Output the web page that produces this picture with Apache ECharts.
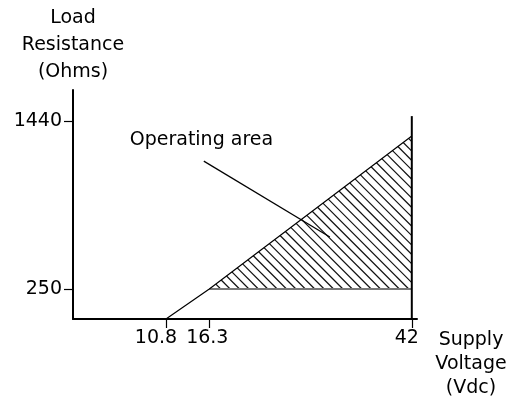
<!DOCTYPE html>
<html><head><meta charset="utf-8">
<script src="https://cdn.jsdelivr.net/npm/echarts@6/dist/echarts.min.js"></script>
<style>html,body{margin:0;padding:0;background:#fff}#c{width:517px;height:400px}</style>
</head><body><div id="c"></div>
<script>
// ---- data ----
const voltageTicks = [10.8, 16.3, 42];
const resistanceTicks = [250, 1440];
const boundaryVolts = [10.8, 16.3, 42];
const boundaryOhms = [37.5, 250, 1334];
const floorVolts = [16.3, 42];
const floorOhms = [250, 250];
const edgeVolts = [42, 42];
const edgeOhms = [37.5, 1475];
const areaVolts = [16.3, 42, 42];
const areaOhms = [250, 250, 1334];
const leaderVolts = [15.6, 31.6];
const leaderOhms = [1156, 618];
const annotationText = 'Operating area';
const annotationAt = [6.2, 1305];

const zip = (a, b) => a.map((v, i) => [v, b[i]]);
const FONT = 'DejaVu Sans';
const FS = 19;
const HATCH_STEP = 9.4;
// label style keys (left shift of each x tick label), by tick order
const xLabelStyleKeys = ['l', 'm', 'r'];

const chart = echarts.init(document.getElementById('c'), null, {renderer: 'canvas'});
const richBase = {fontFamily: FONT, fontSize: FS, color: '#000'};
chart.setOption({
  animation: false,
  backgroundColor: '#fff',
  grid: {left: 73, right: 100, top: 90, bottom: 81, containLabel: false, outerBoundsMode: 'none'},
  xAxis: {
    type: 'value', min: -1, max: 42.66,
    splitLine: {show: false},
    axisLine: {show: true, onZero: false, lineStyle: {color: '#000', width: 2}},
    axisTick: {show: true, customValues: voltageTicks, length: 9, lineStyle: {color: '#000', width: 1.2}},
    axisLabel: {customValues: voltageTicks,
      formatter: v => '{' + xLabelStyleKeys[voltageTicks.indexOf(v)] + '|' + String(v) + '}',
      color: '#000', fontFamily: FONT, fontSize: FS, margin: 10,
      rich: {
        l: Object.assign({padding: [0, 20, 0, 0]}, richBase),
        m: Object.assign({padding: [0, 4, 0, 0]}, richBase),
        r: Object.assign({padding: [0, 10, 0, 0]}, richBase)
      }}
  },
  yAxis: {
    type: 'value', min: 37.5, max: 1660,
    splitLine: {show: false},
    axisLine: {show: true, onZero: false, lineStyle: {color: '#000', width: 2}},
    axisTick: {show: true, customValues: resistanceTicks, length: 9, lineStyle: {color: '#000', width: 1.2}},
    axisLabel: {customValues: resistanceTicks, formatter: v => String(v), color: '#000',
      fontFamily: FONT, fontSize: FS, margin: 11}
  },
  graphic: [
    {type: 'text', x: 73, y: 5, style: {text: 'Load\nResistance\n(Ohms)', fontFamily: FONT, fontSize: FS,
      fill: '#000', align: 'center', verticalAlign: 'top', lineHeight: 27}},
    {type: 'text', x: 471, y: 328, style: {text: 'Supply\nVoltage\n(Vdc)', fontFamily: FONT, fontSize: FS,
      fill: '#000', align: 'center', verticalAlign: 'top', lineHeight: 24}}
  ],
  series: [
    {
      type: 'custom', silent: true, clip: false,
      data: [[areaVolts[0], areaOhms[0]]],
      renderItem: function (params, api) {
        const pts = zip(areaVolts, areaOhms).map(p => api.coord(p));
        const ks = pts.map(p => p[1] - p[0]);
        const kMin = Math.min.apply(null, ks), kMax = Math.max.apply(null, ks);
        const children = [];
        for (let k = kMin + HATCH_STEP * 0.6; k < kMax; k += HATCH_STEP) {
          const hits = [];
          for (let i = 0; i < pts.length; i++) {
            const a = pts[i], b = pts[(i + 1) % pts.length];
            const fa = a[1] - a[0] - k, fb = b[1] - b[0] - k;
            if ((fa <= 0 && fb > 0) || (fa > 0 && fb <= 0)) {
              const t = fa / (fa - fb);
              hits.push([a[0] + (b[0] - a[0]) * t, a[1] + (b[1] - a[1]) * t]);
            }
          }
          if (hits.length >= 2) {
            children.push({type: 'line', shape: {x1: hits[0][0], y1: hits[0][1], x2: hits[1][0], y2: hits[1][1]},
              style: {stroke: '#111', lineWidth: 1.2}});
          }
        }
        return {type: 'group', children: children};
      }
    },
    {type: 'line', data: zip(floorVolts, floorOhms), symbol: 'none', silent: true,
      lineStyle: {color: '#777', width: 2}},
    {type: 'line', data: zip(boundaryVolts, boundaryOhms), symbol: 'none', silent: true,
      lineStyle: {color: '#000', width: 1.2}},
    {type: 'line', data: zip(edgeVolts, edgeOhms), symbol: 'none', silent: true,
      lineStyle: {color: '#000', width: 2}},
    {type: 'line', data: zip(leaderVolts, leaderOhms), symbol: 'none', silent: true,
      lineStyle: {color: '#000', width: 1.2}},
    {type: 'scatter', data: [annotationAt], symbolSize: 0, silent: true,
      itemStyle: {opacity: 1},
      label: {show: true, position: 'right', distance: 0, formatter: annotationText,
        color: '#000', opacity: 1, fontFamily: FONT, fontSize: FS}}
  ]
});
</script></body></html>
